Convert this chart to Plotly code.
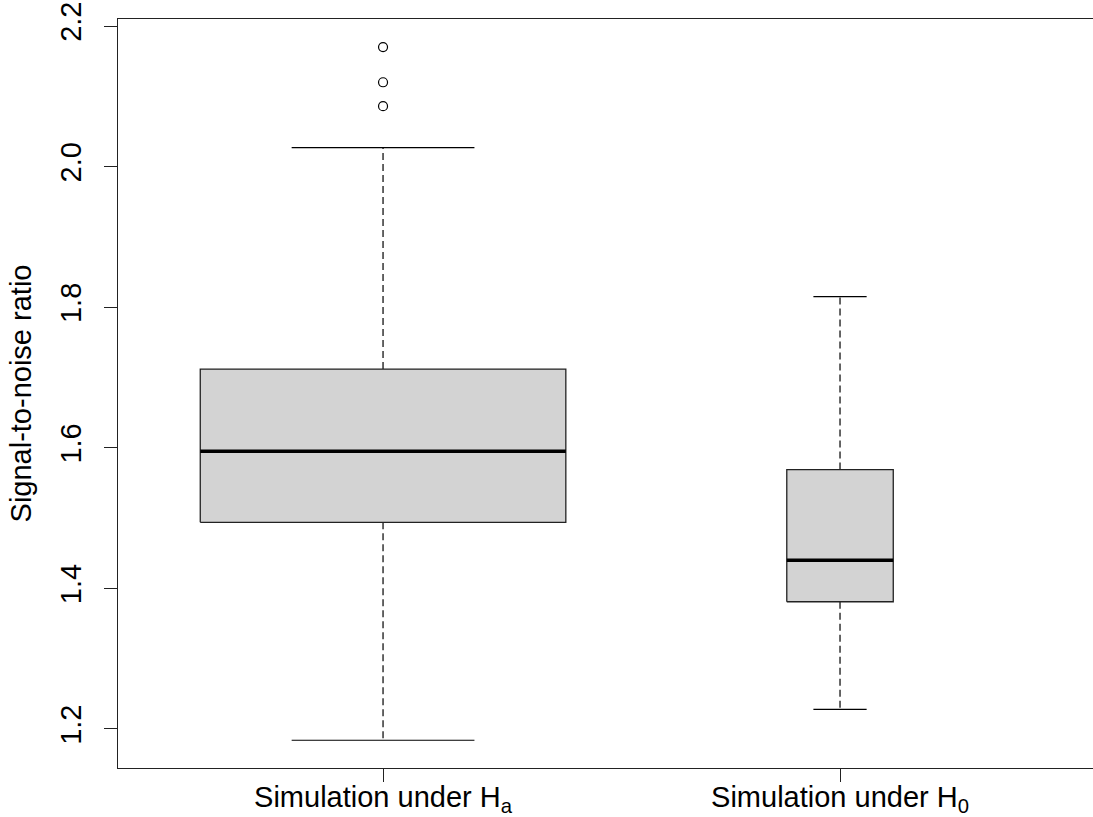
import plotly.graph_objects as go

# ---- data ----
categories = ["Simulation under H<sub>a</sub>", "Simulation under H<sub>0</sub>"]
positions = [1, 2]
lower_whisker = [1.184, 1.228]
q1_values = [1.494, 1.381]
medians = [1.595, 1.440]
q3_values = [1.712, 1.569]
upper_whisker = [2.027, 1.815]
outliers = [[2.086, 2.120, 2.170], []]
y_ticks = [1.2, 1.4, 1.6, 1.8, 2.0, 2.2]

# ---- style ----
box_widths = [0.80, 0.233]   # varwidth-style relative widths (x-axis units)
staple_frac = 0.5
FONT = "Liberation Sans, Arial, sans-serif"
FS = 29

fig = go.Figure()

for i, c in enumerate(positions):
    w = box_widths[i]
    l, r = c - w / 2, c + w / 2
    # whiskers (dashed)
    fig.add_trace(go.Scatter(x=[c, c], y=[q3_values[i], upper_whisker[i]], mode="lines",
                             line=dict(color="black", width=1.2, dash="7px,4px"),
                             showlegend=False, hoverinfo="skip"))
    fig.add_trace(go.Scatter(x=[c, c], y=[q1_values[i], lower_whisker[i]], mode="lines",
                             line=dict(color="black", width=1.2, dash="7px,4px"),
                             showlegend=False, hoverinfo="skip"))
    # staples
    sw = w * staple_frac / 2
    for yv in (upper_whisker[i], lower_whisker[i]):
        fig.add_trace(go.Scatter(x=[c - sw, c + sw], y=[yv, yv], mode="lines",
                                 line=dict(color="black", width=1.2),
                                 showlegend=False, hoverinfo="skip"))
    # box
    fig.add_trace(go.Scatter(x=[l, r, r, l, l],
                             y=[q1_values[i], q1_values[i], q3_values[i], q3_values[i], q1_values[i]],
                             mode="lines", fill="toself", fillcolor="#d3d3d3",
                             line=dict(color="#222222", width=1.3),
                             showlegend=False, hoverinfo="skip"))
    # median
    fig.add_trace(go.Scatter(x=[l, r], y=[medians[i], medians[i]], mode="lines",
                             line=dict(color="black", width=3.5),
                             showlegend=False, hoverinfo="skip"))
    # outliers
    if outliers[i]:
        fig.add_trace(go.Scatter(x=[c] * len(outliers[i]), y=outliers[i], mode="markers",
                                 marker=dict(symbol="circle-open", size=9,
                                             line=dict(color="black", width=1.2), color="black"),
                                 showlegend=False, hoverinfo="skip"))

fig.update_layout(
    width=1093, height=817,
    margin=dict(l=118, r=0, t=19, b=49),
    paper_bgcolor="white", plot_bgcolor="white",
    font=dict(family=FONT, size=FS, color="black"),
    showlegend=False,
)
fig.update_xaxes(
    range=[0.42, 2.5536], tickmode="array", tickvals=positions, ticktext=categories,
    showgrid=False, zeroline=False, showline=True, mirror=True, automargin=False,
    linecolor="#222222", linewidth=1.3,
    ticks="outside", ticklen=13, tickwidth=1.2, tickcolor="#222222",
    ticklabelstandoff=-10,
    tickfont=dict(family=FONT, size=FS, color="black"),
)
fig.update_yaxes(
    range=[1.1445, 2.210], tickmode="array", tickvals=y_ticks,
    ticktext=[f"{v:.1f}" for v in y_ticks],
    showgrid=False, zeroline=False, showline=True, mirror=False, automargin=False,
    linecolor="#222222", linewidth=1.3,
    ticks="outside", ticklen=13, tickwidth=1.2, tickcolor="#222222",
    tickangle=-90, ticklabelstandoff=11, tickfont=dict(family=FONT, size=FS, color="black"),
    title=dict(text="Signal-to-noise ratio", font=dict(family=FONT, size=FS, color="black"),
               standoff=15),
)

fig.write_html("out.html")
